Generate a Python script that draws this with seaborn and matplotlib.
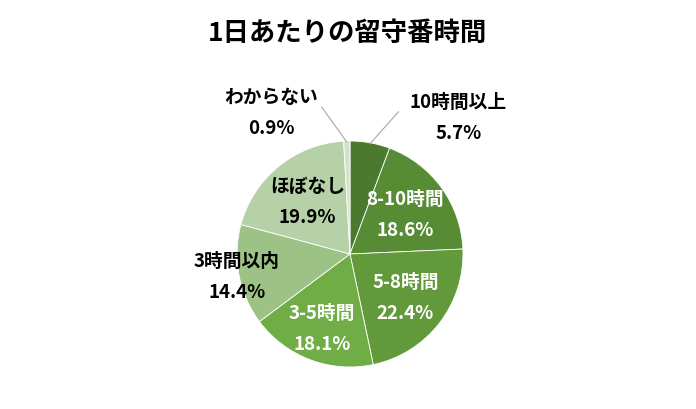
import numpy as np
import matplotlib
matplotlib.use("Agg")
import matplotlib.pyplot as plt
import seaborn as sns

# データ
categories = ["10時間以上", "8-10時間", "5-8時間", "3-5時間", "3時間以内", "ほぼなし", "わからない"]
values = [5.7, 18.6, 22.4, 18.1, 14.4, 19.9, 0.9]
colors = ["#4b7a2f", "#578c34", "#62993a", "#70ad47", "#9dc285", "#b6d0a7", "#d4e2cb"]
text_colors = ["black", "white", "white", "white", "black", "black", "black"]

sns.set_theme(style="white")
plt.rcParams["font.family"] = ["Noto Sans CJK JP", "DejaVu Sans"]

fig = plt.figure(figsize=(6.96, 4.10), dpi=100)
fig.patch.set_facecolor("white")
ax = fig.add_axes([(350 - 113) / 696, (410 - 255 - 113) / 410, 226 / 696, 226 / 410])

wedges, _ = ax.pie(values, colors=colors, startangle=90, counterclock=False,
                   wedgeprops=dict(edgecolor="white", linewidth=0.6))
ax.set_xlim(-1, 1)
ax.set_ylim(-1, 1)
ax.set_aspect("equal")

# ラベル（内側は中心角から、外側2つは引き出し線付き）
label_r = [None, 0.6, 0.62, 0.7, 1.02, 0.6, None]
outside = {0: (0.96, 1.215), 6: (-0.70, 1.26)}
line_start = {0: (0.43, 1.26), 6: (-0.25, 1.30)}
for i, w in enumerate(wedges):
    mid = np.deg2rad((w.theta1 + w.theta2) / 2)
    txt = f"{categories[i]}\n{values[i]:.1f}%"
    if label_r[i] is not None:
        x, y = label_r[i] * np.cos(mid), label_r[i] * np.sin(mid)
        ax.text(x, y, txt, ha="center", va="center", fontsize=13.5, fontweight="bold",
                color=text_colors[i], linespacing=1.8)
    else:
        tx, ty = outside[i]
        ax.text(tx, ty, txt, ha="center", va="center", fontsize=13.5, fontweight="bold",
                color=text_colors[i], linespacing=1.8)
        sx, sy = line_start[i]
        ax.plot([sx, np.cos(mid) * 0.99], [sy, np.sin(mid) * 0.99], color="#a6a6a6",
                lw=0.8, clip_on=False)

fig.text(0.5, 1 - 33 / 410, "1日あたりの留守番時間", ha="center", va="center",
         fontsize=19, fontweight="bold", color="black")

plt.savefig("out.png", dpi=100)
